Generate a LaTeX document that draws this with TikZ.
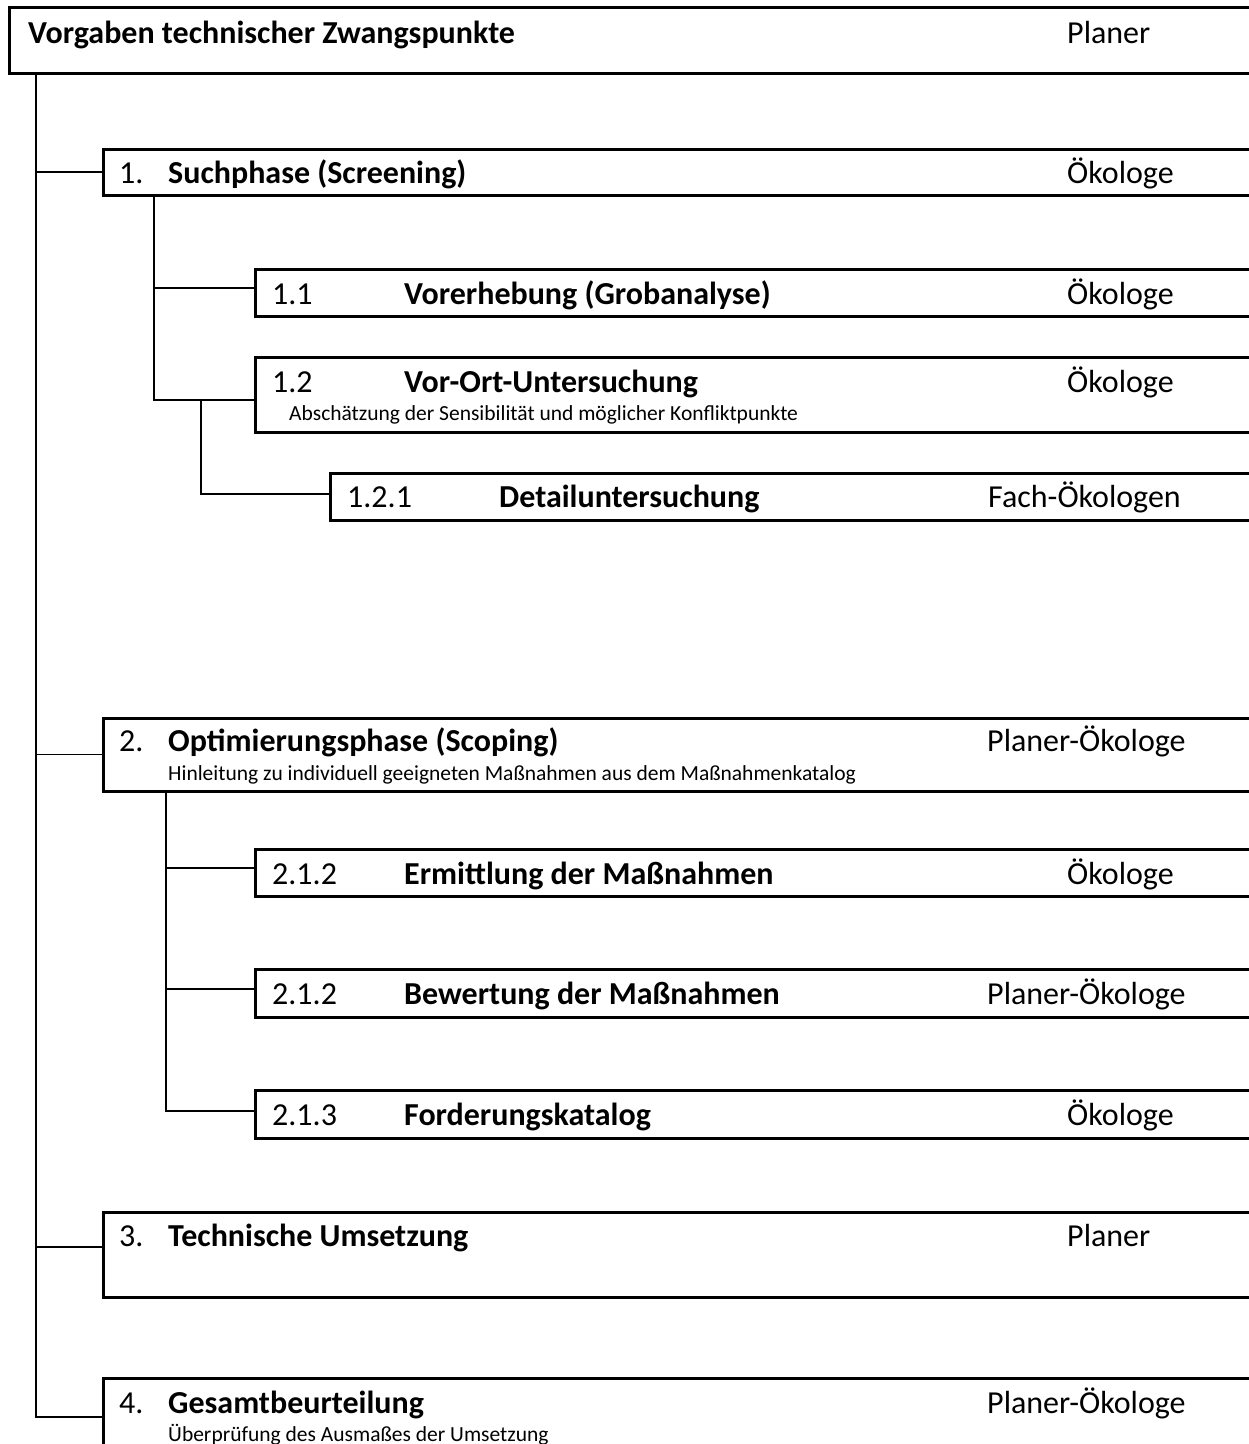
\documentclass[tikz,border=0pt]{standalone}
\usepackage{fontspec}
\setmainfont{Carlito}
\newcommand\hdfont{\fontsize{32}{38}\selectfont}
\newcommand\subfont{\fontsize{21.5}{26}\selectfont}
\begin{document}
\begin{tikzpicture}[x=1pt,y=-1pt,
    box/.style={draw, line width=3pt, anchor=north west, inner sep=0pt, outer sep=0pt},
    conn/.style={line width=1.5pt},
    txt/.style={anchor=base west, inner sep=0pt, font=\hdfont},
    head/.style={txt, font=\hdfont\bfseries},
    sub/.style={anchor=base west, inner sep=0pt, font=\subfont}]
    \clip (0,0) rectangle (1249,1444);
    % boxes
    \node[box, minimum width=1256pt, minimum height=66pt] (b0) at (9,7) {};
    \node[box, minimum width=1162pt, minimum height=46pt] (b1) at (103,149) {};
    \node[box, minimum width=1010pt, minimum height=47pt] (b11) at (255,269) {};
    \node[box, minimum width=1010pt, minimum height=75pt] (b12) at (255,357) {};
    \node[box, minimum width=935pt, minimum height=47pt] (b121) at (330,473) {};
    \node[box, minimum width=1162pt, minimum height=73pt] (b2) at (103,718) {};
    \node[box, minimum width=1010pt, minimum height=47pt] (b21) at (255,849) {};
    \node[box, minimum width=1010pt, minimum height=48pt] (b22) at (255,969) {};
    \node[box, minimum width=1010pt, minimum height=48pt] (b23) at (255,1090) {};
    \node[box, minimum width=1162pt, minimum height=85pt] (b3) at (103,1212) {};
    \node[box, minimum width=1162pt, minimum height=78pt] (b4) at (103,1378) {};
    % connectors
    \draw[conn] ([xshift=27pt]b0.south west) |- (b1.west);
    \draw[conn] ([xshift=27pt]b0.south west) |- (b2.west);
    \draw[conn] ([xshift=27pt]b0.south west) |- ([yshift=7.5pt]b3.west);
    \draw[conn] ([xshift=27pt]b0.south west) |- (b4.west);
    \draw[conn] ([xshift=51pt]b1.south west) |- ([yshift=4.5pt]b11.west);
    \draw[conn] ([xshift=51pt]b1.south west) |- ([yshift=-5.5pt]b12.west);
    \coordinate (k12) at (201,400);
    \draw[conn] (k12) |- ([yshift=2.5pt]b121.west);
    \draw[conn] ([xshift=63pt]b2.south west) |- ([yshift=4.5pt]b21.west);
    \draw[conn] ([xshift=63pt]b2.south west) |- ([yshift=4pt]b22.west);
    \draw[conn] ([xshift=63pt]b2.south west) |- ([yshift=3pt]b23.west);
    % texts
    \node[head] (t0) at (28,43) {Vorgaben technischer Zwangspunkte};
    \node[txt] (r0) at (1067,43) {Planer};
    \node[txt] (n1) at (119,183) {1.};
    \node[head] (t1) at (168,183) {Suchphase (Screening)};
    \node[txt] (r1) at (1067,183) {Ökologe};
    \node[txt] (n11) at (272,304) {1.1};
    \node[head] (t11) at (404,304) {Vorerhebung (Grobanalyse)};
    \node[txt] (r11) at (1067,304) {Ökologe};
    \node[txt] (n12) at (272,392) {1.2};
    \node[head] (t12) at (404,392) {Vor-Ort-Untersuchung};
    \node[txt] (r12) at (1067,392) {Ökologe};
    \node[sub] (s12) at (289,420) {Abschätzung der Sensibilität und möglicher Konfliktpunkte};
    \node[txt] (n121) at (347,507) {1.2.1};
    \node[head] (t121) at (499,507) {Detailuntersuchung};
    \node[txt] (r121) at (988,507) {Fach-Ökologen};
    \node[txt] (n2) at (119,751) {2.};
    \node[head] (t2) at (168,751) {Optimierungsphase (Scoping)};
    \node[txt] (r2) at (987,751) {Planer-Ökologe};
    \node[sub] (s2) at (168,780) {Hinleitung zu individuell geeigneten Maßnahmen aus dem Maßnahmenkatalog};
    \node[txt] (n21) at (272,884) {2.1.2};
    \node[head] (t21) at (404,884) {Ermittlung der Maßnahmen};
    \node[txt] (r21) at (1067,884) {Ökologe};
    \node[txt] (n22) at (272,1004) {2.1.2};
    \node[head] (t22) at (404,1004) {Bewertung der Maßnahmen};
    \node[txt] (r22) at (987,1004) {Planer-Ökologe};
    \node[txt] (n23) at (272,1125) {2.1.3};
    \node[head] (t23) at (404,1125) {Forderungskatalog};
    \node[txt] (r23) at (1067,1125) {Ökologe};
    \node[txt] (n3) at (119,1246) {3.};
    \node[head] (t3) at (168,1246) {Technische Umsetzung};
    \node[txt] (r3) at (1067,1246) {Planer};
    \node[txt] (n4) at (119,1413) {4.};
    \node[head] (t4) at (168,1413) {Gesamtbeurteilung};
    \node[txt] (r4) at (987,1413) {Planer-Ökologe};
    \node[sub] (s4) at (168,1441) {Überprüfung des Ausmaßes der Umsetzung};
\end{tikzpicture}
\end{document}
